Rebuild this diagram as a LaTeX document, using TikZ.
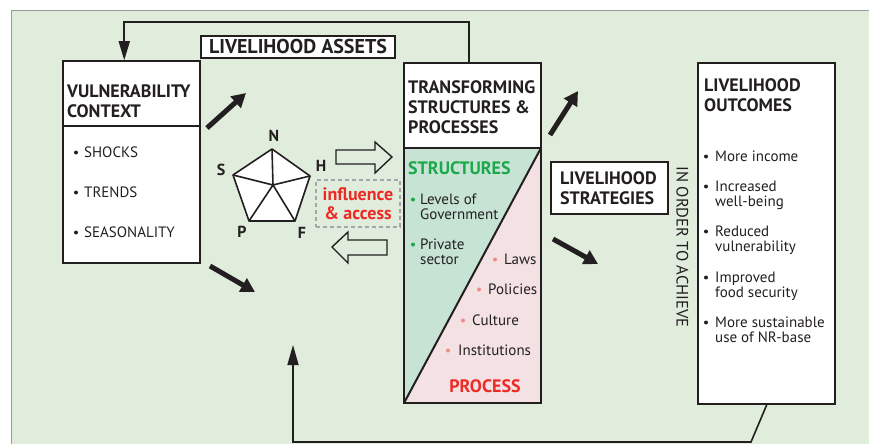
\documentclass[tikz,border=0pt]{standalone}
\usepackage{fontspec}
\setmainfont{PT Sans}
\usetikzlibrary{arrows.meta}
\definecolor{bgc}{HTML}{E0ECDC}
\definecolor{bordc}{HTML}{9A9A9A}
\definecolor{sgreen}{HTML}{1BA84B}
\definecolor{sred}{HTML}{EE2A24}
\definecolor{pinkdot}{HTML}{F08A84}
\definecolor{gfill}{HTML}{C6E3D4}
\definecolor{pfill}{HTML}{F4E1E4}
\definecolor{ink}{HTML}{231F20}
\definecolor{dashc}{HTML}{A3A7AB}
\tikzset{
  box/.style={draw=ink, line width=1.5pt, fill=white, inner sep=0pt},
  hdr/.style={font=\fontsize{18}{20}\selectfont\bfseries, text=ink, align=left, anchor=base west, inner sep=0pt},
  body/.style={font=\fontsize{15}{15}\selectfont, text=ink, align=left, anchor=base west, inner sep=0pt},
  bigarrow/.style={line width=5pt, draw=ink, -{Triangle[length=14pt,width=15pt]}},
  fb/.style={draw=ink, line width=1.6pt},
  hollow/.style={draw=ink, line width=1.4pt, fill=bgc, line join=miter},
  lbl/.style={font=\fontsize{16}{18}\selectfont\bfseries, text=ink, inner sep=0pt},
  dot/.style={circle, fill=ink, inner sep=0pt, minimum size=4pt},
  gdot/.style={dot, fill=sgreen},
  pdot/.style={dot, fill=pinkdot},
}
\begin{document}
\begin{tikzpicture}[x=1pt,y=-1pt]
\useasboundingbox (0,0) rectangle (869,444);
% background panel
\fill[bgc] (11,11) rectangle (869,444);
\draw[bordc, line width=1pt] (11,444) -- (11,11) -- (869,11);

% ---------- boxes ----------
\node[box, minimum width=137pt, minimum height=202pt] (vc) at (131.5,162) {};
\draw[ink, line width=1.5pt] (vc.west |- 0,126) -- (vc.east |- 0,126);
\node[box, minimum width=137pt, minimum height=340pt] (ts) at (472.5,233) {};
\node[box, minimum width=137pt, minimum height=341pt] (lo) at (766.5,233.5) {};
\node[box, minimum width=117pt, minimum height=52pt] (ls) at (609.5,188) {};
\node[draw=ink, line width=1.3pt, fill=white, minimum width=194pt, minimum height=22pt, inner sep=0pt] (la) at (298,47) {};

% transforming structures lower part
\fill[gfill] (404,148) -- (541,148) -- (404,403) -- cycle;
\fill[pfill] (541,148) -- (541,403) -- (404,403) -- cycle;
\draw[ink, line width=2pt] (541,148) -- (404,403);
\draw[ink, line width=2.4pt] (404,148) rectangle (541,403);
\draw[ink, line width=1.5pt] (ts.north west) rectangle (541,148);

% ---------- texts ----------
\node[font=\fontsize{20}{22}\selectfont\bfseries, text=ink, inner sep=0pt, anchor=base] (lat) at (298,54) {LIVELIHOOD ASSETS};

\node[hdr] (vct) at (67,117) {VULNERABILITY\\CONTEXT};
\node[dot] (vd1) at (76,152.5) {};
\node[body] (vt1) at (84,157) {SHOCKS};
\node[dot] (vd2) at (76,192.5) {};
\node[body] (vt2) at (84,197) {TRENDS};
\node[dot] (vd3) at (76,232.5) {};
\node[body] (vt3) at (84,237) {SEASONALITY};

\node[hdr] (tst) at (408,133) {TRANSFORMING\\STRUCTURES \&\\PROCESSES};
\node[hdr, text=sgreen] (stt) at (408,174) {STRUCTURES};
\node[gdot] (gd1) at (413,199.5) {};
\node[body] (gt1) at (420,219) {Levels of\\Government};
\node[gdot] (gd2) at (413,244.5) {};
\node[body] (gt2) at (420,264) {Private\\sector};
\node[pdot] (pd1) at (495,259.5) {};
\node[body] (pt1) at (504,264) {Laws};
\node[pdot] (pd2) at (479,289.5) {};
\node[body] (pt2) at (488,294) {Policies};
\node[pdot] (pd3) at (463,320.5) {};
\node[body] (pt3) at (472,325) {Culture};
\node[pdot] (pd4) at (448,350.5) {};
\node[body] (pt4) at (458,355) {Institutions};
\node[font=\fontsize{18}{20}\selectfont\bfseries, text=sred, inner sep=0pt, anchor=base] (prt) at (485,392) {PROCESS};

\node[hdr] (lst) at (560,204) {LIVELIHOOD\\STRATEGIES};

\node[font=\fontsize{16.5}{18}\selectfont, text=ink, inner sep=0pt, rotate=-90] (ioa) at (682.5,247) {IN ORDER TO ACHIEVE};

\node[hdr] (lot) at (704,111) {LIVELIHOOD\\OUTCOMES};
\node[dot] (od1) at (706,156.5) {};
\node[body] (ot1) at (715,161) {More income};
\node[dot] (od2) at (706,186.5) {};
\node[body] (ot2) at (715,206) {Increased\\well-being};
\node[dot] (od3) at (706,231.5) {};
\node[body] (ot3) at (715,251) {Reduced\\vulnerability};
\node[dot] (od4) at (706,277.5) {};
\node[body] (ot4) at (715,297) {Improved\\food security};
\node[dot] (od5) at (706,322.5) {};
\node[body] (ot5) at (715,342) {More sustainable\\use of NR-base};

% ---------- asset pentagon ----------
\coordinate (pN) at (272,149);
\coordinate (pH) at (310,176);
\coordinate (pF) at (295,221);
\coordinate (pP) at (249,221);
\coordinate (pS) at (233,175);
\coordinate (pC) at (273,185);
\draw[ink, line width=1.6pt, fill=white, line join=round] (pN) -- (pH) -- (pF) -- (pP) -- (pS) -- cycle;
\draw[ink, line width=1.6pt] (pC) -- (pN) (pC) -- (pH) (pC) -- (pF) (pC) -- (pP) (pC) -- (pS);
\node[lbl] (lN) at (274,136) {N};
\node[lbl] (lH) at (321,165.5) {H};
\node[lbl] (lS) at (221,170) {S};
\node[lbl] (lP) at (242,232) {P};
\node[lbl] (lF) at (302,233) {F};

% influence & access
\node[draw=dashc, line width=1.6pt, dash pattern=on 4pt off 3pt, minimum width=84pt, minimum height=47pt, inner sep=0pt,
      font=\fontsize{18}{19}\selectfont\bfseries, text=sred, align=center] (ia) at (358,203.5) {influence\\\& access};

% hollow arrows
\draw[hollow] (336,150) -- (375,150) -- (375,142) -- (392,157) -- (375,173) -- (375,164) -- (336,164) -- cycle;
\draw[hollow] (387,240) -- (348,240) -- (348,232) -- (332,247) -- (348,263) -- (348,255) -- (387,255) -- cycle;

% big black arrows
\coordinate (a1s) at (207,128); \coordinate (a1e) at (246,93);
\coordinate (a2s) at (210,266); \coordinate (a2e) at (255,292);
\coordinate (a3s) at (550,135); \coordinate (a3e) at (578,91);
\coordinate (a4s) at (553,239); \coordinate (a4e) at (598,264);
\draw[bigarrow] (a1s) -- (a1e);
\draw[bigarrow] (a2s) -- (a2e);
\draw[bigarrow] (a3s) -- (a3e);
\draw[bigarrow] (a4s) -- (a4e);

% feedback lines
\draw[fb, -{Triangle[length=19pt,width=11pt]}] ([xshift=65.5pt]ts.north west) -- ++(0,-40) -| ([xshift=62pt]vc.north west);
\coordinate (fbend) at (293,345);
\draw[fb, -{Triangle[length=20pt,width=11pt]}] ([xshift=69.5pt]lo.south west) -- (751,442) -- (293,442) -- (fbend);
\end{tikzpicture}
\end{document}
